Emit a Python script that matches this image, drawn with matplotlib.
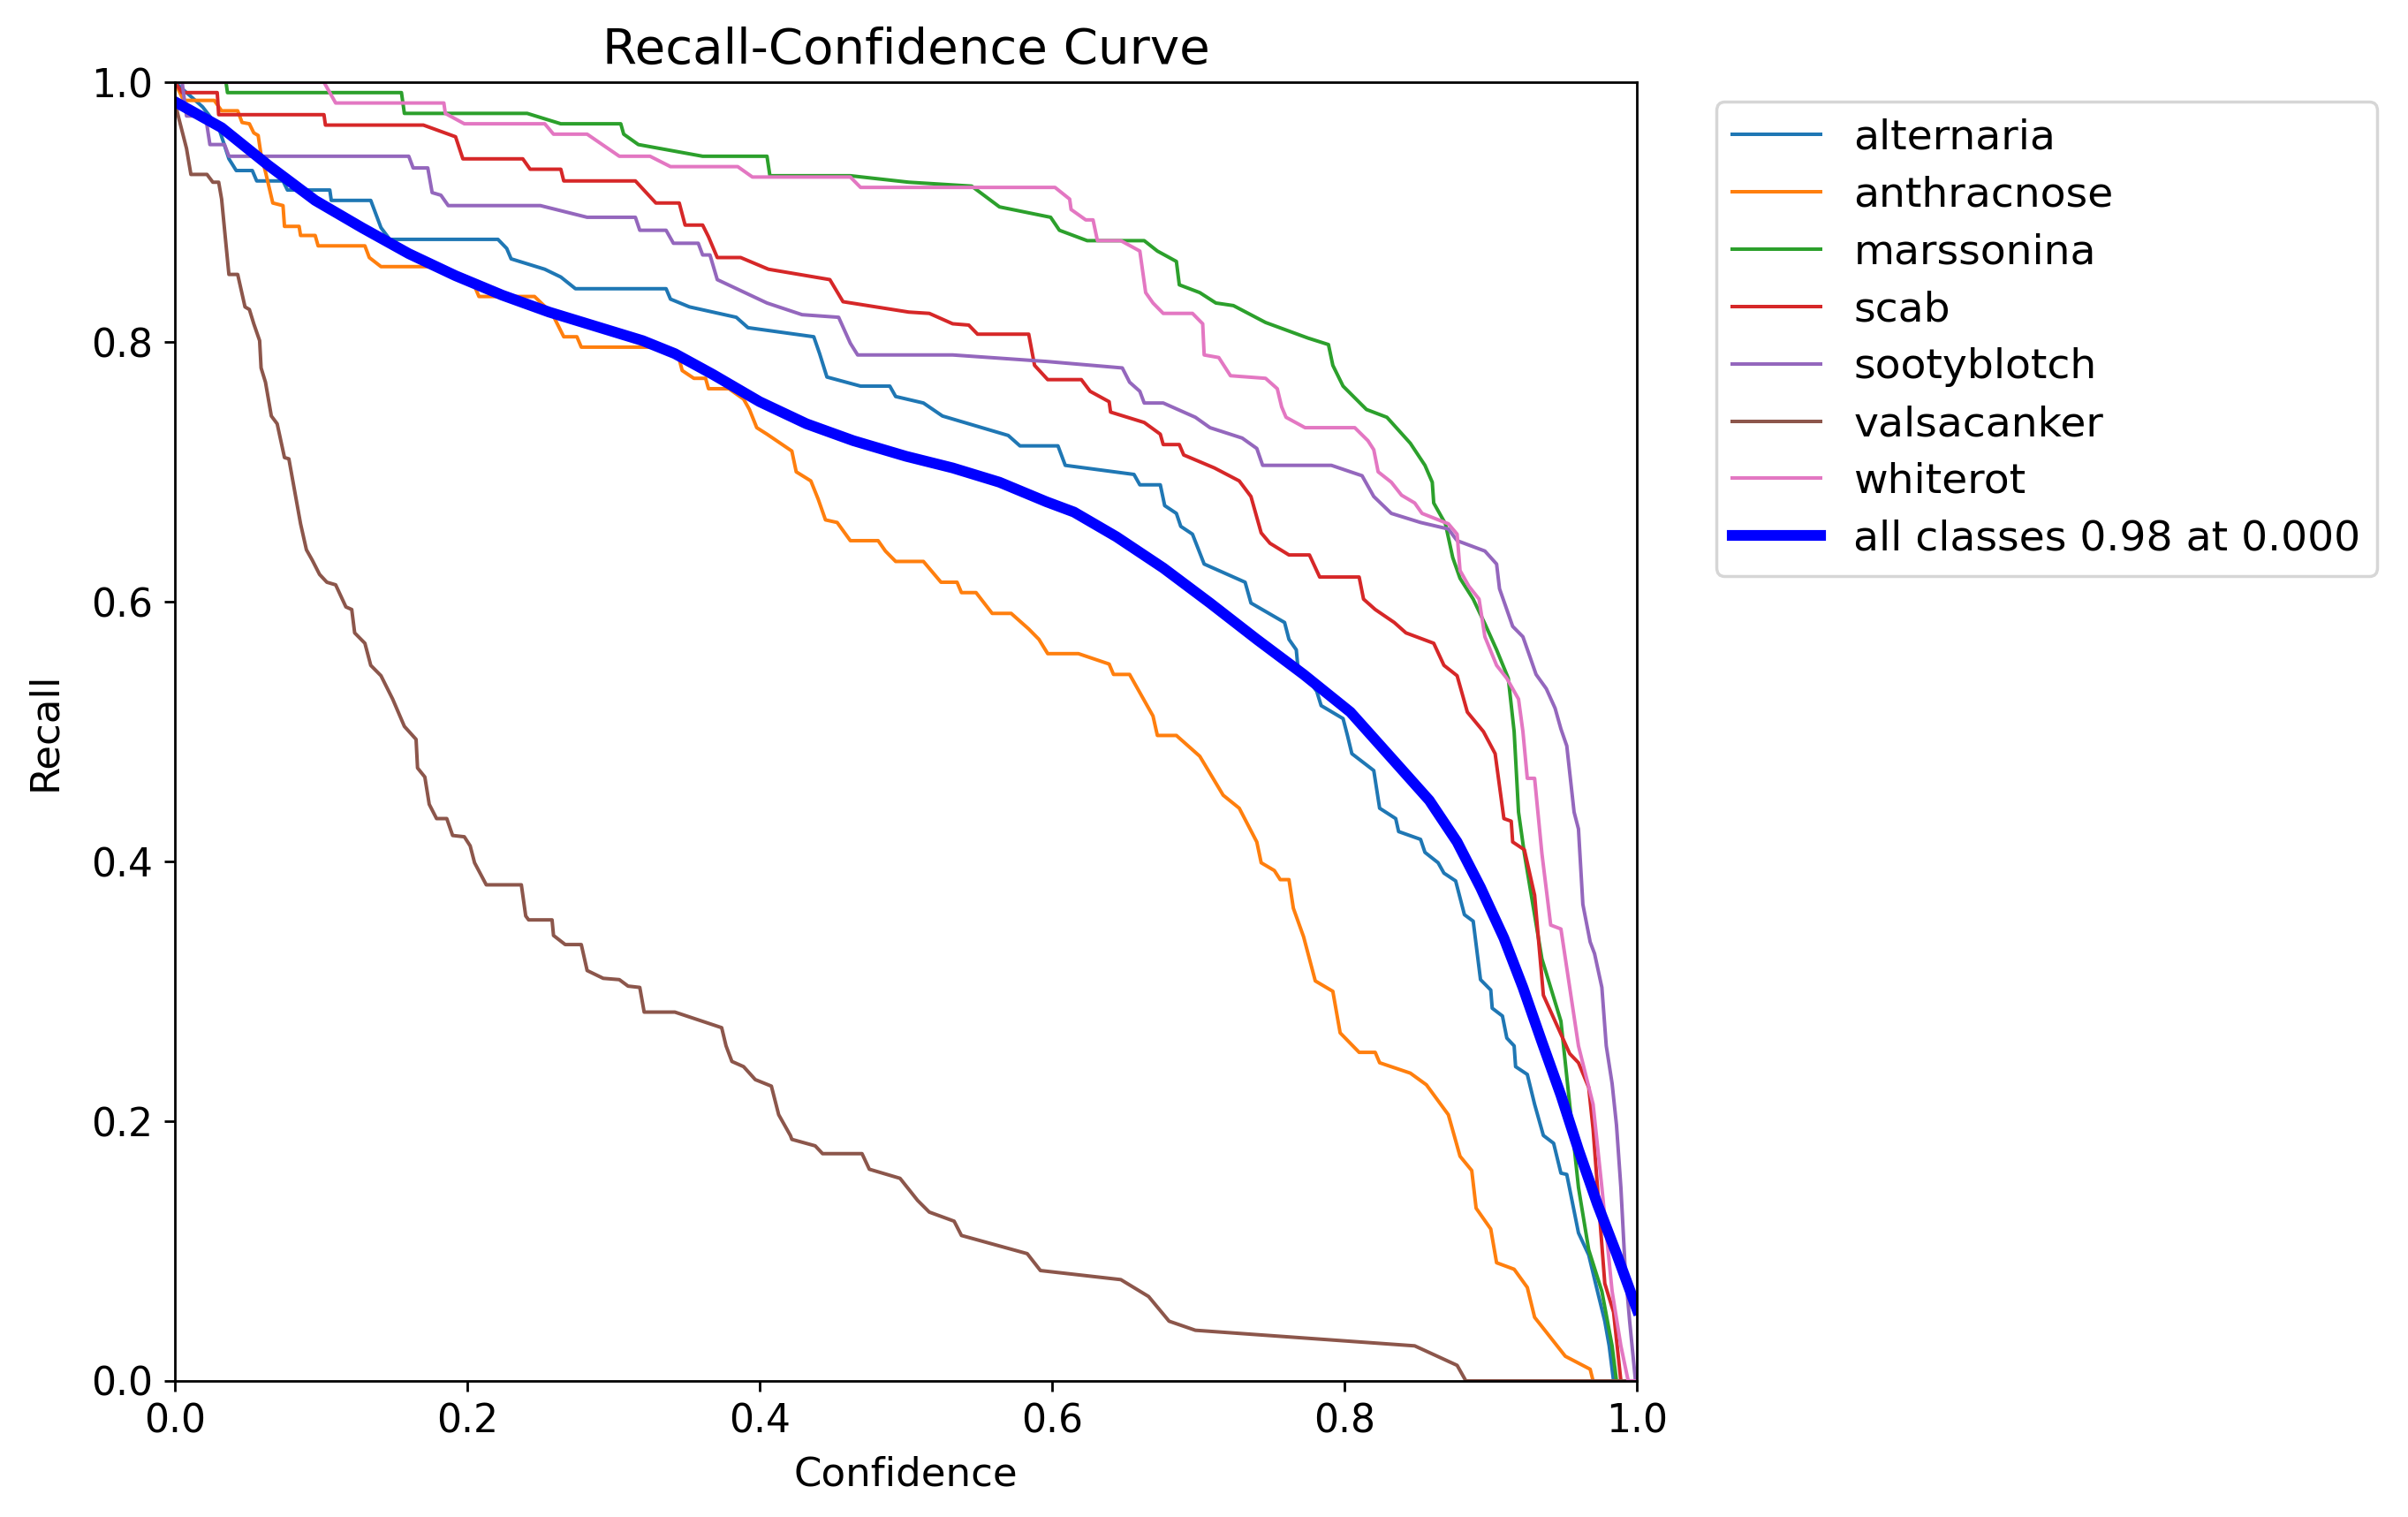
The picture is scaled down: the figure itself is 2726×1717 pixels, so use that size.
import numpy as np
import matplotlib
matplotlib.use("Agg")
import matplotlib.pyplot as plt

# (confidence, recall) points
alternaria = [(0, 1.0), (0.019, 0.981), (0.03, 0.965), (0.037, 0.941), (0.042, 0.932), (0.053, 0.932),
              (0.056, 0.924), (0.074, 0.924), (0.077, 0.917), (0.106, 0.917), (0.107, 0.909), (0.134, 0.909),
              (0.138, 0.897), (0.141, 0.888), (0.147, 0.879), (0.221, 0.879), (0.227, 0.872), (0.23, 0.864),
              (0.253, 0.856), (0.264, 0.85), (0.274, 0.841), (0.336, 0.841), (0.339, 0.833), (0.352, 0.827),
              (0.384, 0.819), (0.392, 0.811), (0.437, 0.804), (0.441, 0.791), (0.446, 0.773), (0.469, 0.766),
              (0.489, 0.766), (0.493, 0.758), (0.512, 0.753), (0.525, 0.743), (0.57, 0.728), (0.578, 0.72),
              (0.604, 0.72), (0.609, 0.705), (0.656, 0.698), (0.66, 0.69), (0.674, 0.69), (0.677, 0.674),
              (0.685, 0.668), (0.688, 0.658), (0.696, 0.652), (0.704, 0.629), (0.732, 0.615), (0.736, 0.599),
              (0.759, 0.584), (0.762, 0.571), (0.767, 0.563), (0.768, 0.551), (0.781, 0.531), (0.784, 0.52),
              (0.799, 0.51), (0.802, 0.497), (0.805, 0.483), (0.82, 0.47), (0.824, 0.441), (0.835, 0.433),
              (0.837, 0.423), (0.852, 0.417), (0.855, 0.407), (0.864, 0.399), (0.868, 0.391), (0.876, 0.385),
              (0.882, 0.359), (0.888, 0.354), (0.893, 0.309), (0.9, 0.301), (0.901, 0.287), (0.908, 0.281),
              (0.911, 0.264), (0.916, 0.258), (0.917, 0.242), (0.925, 0.236), (0.93, 0.213), (0.936, 0.189),
              (0.943, 0.183), (0.948, 0.16), (0.952, 0.159), (0.96, 0.114), (0.967, 0.097), (0.973, 0.069),
              (0.978, 0.046), (0.981, 0.027), (0.984, 0.0), (1.0, 0.0)]

anthracnose = [(0, 1.0), (0.006, 0.986), (0.027, 0.986), (0.032, 0.978), (0.043, 0.978), (0.046, 0.969),
               (0.051, 0.968), (0.054, 0.961), (0.057, 0.959), (0.059, 0.944), (0.062, 0.931), (0.067, 0.907),
               (0.074, 0.905), (0.075, 0.889), (0.085, 0.889), (0.086, 0.882), (0.096, 0.882), (0.098, 0.874),
               (0.13, 0.874), (0.133, 0.865), (0.141, 0.858), (0.178, 0.858), (0.2, 0.85), (0.205, 0.843),
               (0.208, 0.835), (0.246, 0.835), (0.258, 0.822), (0.266, 0.804), (0.275, 0.804), (0.278, 0.796),
               (0.328, 0.796), (0.344, 0.791), (0.347, 0.778), (0.355, 0.772), (0.363, 0.772), (0.365, 0.764),
               (0.379, 0.764), (0.389, 0.756), (0.393, 0.748), (0.398, 0.734), (0.405, 0.729), (0.422, 0.716),
               (0.425, 0.7), (0.435, 0.693), (0.44, 0.679), (0.445, 0.663), (0.453, 0.661), (0.462, 0.647),
               (0.481, 0.647), (0.486, 0.639), (0.493, 0.631), (0.512, 0.631), (0.524, 0.615), (0.535, 0.615),
               (0.538, 0.607), (0.548, 0.607), (0.559, 0.591), (0.572, 0.591), (0.584, 0.579), (0.591, 0.571),
               (0.597, 0.56), (0.618, 0.56), (0.639, 0.552), (0.642, 0.544), (0.653, 0.544), (0.661, 0.528),
               (0.669, 0.512), (0.672, 0.497), (0.685, 0.497), (0.701, 0.481), (0.717, 0.451), (0.728, 0.441),
               (0.74, 0.415), (0.743, 0.399), (0.752, 0.393), (0.756, 0.386), (0.762, 0.386), (0.765, 0.364),
               (0.772, 0.342), (0.78, 0.308), (0.792, 0.3), (0.797, 0.268), (0.81, 0.253), (0.821, 0.253),
               (0.824, 0.245), (0.845, 0.237), (0.856, 0.228), (0.871, 0.205), (0.879, 0.173), (0.887, 0.162),
               (0.89, 0.133), (0.9, 0.117), (0.904, 0.091), (0.916, 0.086), (0.925, 0.072), (0.93, 0.049),
               (0.951, 0.019), (0.968, 0.009), (0.97, 0.0), (1.0, 0.0)]

marssonina = [(0, 1.0), (0.035, 1.0), (0.036, 0.992), (0.155, 0.992), (0.157, 0.976), (0.241, 0.976),
              (0.264, 0.968), (0.305, 0.968), (0.307, 0.96), (0.317, 0.952), (0.361, 0.943), (0.405, 0.943),
              (0.407, 0.928), (0.462, 0.928), (0.502, 0.923), (0.545, 0.92), (0.564, 0.904), (0.599, 0.896),
              (0.605, 0.886), (0.624, 0.878), (0.663, 0.878), (0.672, 0.87), (0.685, 0.862), (0.687, 0.844),
              (0.701, 0.838), (0.712, 0.83), (0.724, 0.828), (0.746, 0.815), (0.775, 0.803), (0.789, 0.798),
              (0.792, 0.782), (0.799, 0.766), (0.815, 0.748), (0.829, 0.742), (0.845, 0.722), (0.855, 0.705),
              (0.86, 0.692), (0.861, 0.676), (0.869, 0.66), (0.874, 0.634), (0.879, 0.618), (0.888, 0.602),
              (0.896, 0.583), (0.904, 0.563), (0.912, 0.541), (0.916, 0.5), (0.919, 0.438), (0.923, 0.406),
              (0.935, 0.325), (0.948, 0.277), (0.954, 0.213), (0.96, 0.149), (0.967, 0.101), (0.976, 0.069),
              (0.983, 0.027), (0.986, 0.0), (1.0, 0.0)]

scab = [(0, 1.0), (0.005, 0.992), (0.029, 0.992), (0.03, 0.975), (0.102, 0.975), (0.103, 0.967), (0.17, 0.967),
        (0.192, 0.958), (0.197, 0.941), (0.238, 0.941), (0.243, 0.933), (0.264, 0.933), (0.266, 0.924),
        (0.315, 0.924), (0.329, 0.907), (0.345, 0.907), (0.349, 0.89), (0.361, 0.89), (0.365, 0.881),
        (0.371, 0.865), (0.387, 0.865), (0.406, 0.856), (0.448, 0.848), (0.457, 0.831), (0.502, 0.823),
        (0.516, 0.822), (0.532, 0.814), (0.543, 0.813), (0.549, 0.806), (0.584, 0.806), (0.588, 0.782),
        (0.597, 0.771), (0.62, 0.771), (0.626, 0.762), (0.639, 0.754), (0.64, 0.746), (0.663, 0.738),
        (0.674, 0.729), (0.676, 0.721), (0.687, 0.721), (0.69, 0.713), (0.711, 0.703), (0.728, 0.693),
        (0.736, 0.681), (0.743, 0.653), (0.749, 0.645), (0.762, 0.636), (0.776, 0.636), (0.783, 0.619),
        (0.81, 0.619), (0.813, 0.602), (0.821, 0.594), (0.834, 0.584), (0.842, 0.576), (0.861, 0.568),
        (0.868, 0.551), (0.877, 0.543), (0.884, 0.515), (0.895, 0.5), (0.903, 0.483), (0.909, 0.433),
        (0.914, 0.431), (0.915, 0.415), (0.923, 0.409), (0.93, 0.374), (0.936, 0.297), (0.944, 0.277),
        (0.954, 0.252), (0.96, 0.245), (0.967, 0.226), (0.97, 0.194), (0.973, 0.149), (0.978, 0.075),
        (0.984, 0.053), (0.989, 0.0), (1.0, 0.0)]

sootyblotch = [(0, 1.0), (0.005, 1.0), (0.008, 0.974), (0.021, 0.974), (0.024, 0.952), (0.034, 0.952),
               (0.037, 0.943), (0.16, 0.943), (0.163, 0.934), (0.173, 0.934), (0.176, 0.915), (0.182, 0.913),
               (0.187, 0.905), (0.25, 0.905), (0.282, 0.896), (0.315, 0.896), (0.318, 0.886), (0.336, 0.886),
               (0.341, 0.876), (0.358, 0.876), (0.361, 0.867), (0.366, 0.867), (0.371, 0.848), (0.405, 0.83),
               (0.429, 0.821), (0.454, 0.819), (0.462, 0.799), (0.467, 0.79), (0.532, 0.79), (0.596, 0.785),
               (0.648, 0.78), (0.653, 0.769), (0.66, 0.762), (0.663, 0.753), (0.676, 0.753), (0.698, 0.742),
               (0.708, 0.734), (0.73, 0.726), (0.74, 0.718), (0.744, 0.705), (0.791, 0.705), (0.812, 0.697),
               (0.82, 0.681), (0.832, 0.668), (0.852, 0.661), (0.871, 0.656), (0.877, 0.647), (0.896, 0.639),
               (0.904, 0.629), (0.906, 0.61), (0.915, 0.581), (0.922, 0.573), (0.927, 0.557), (0.931, 0.544),
               (0.938, 0.533), (0.944, 0.518), (0.948, 0.502), (0.952, 0.489), (0.957, 0.438), (0.96, 0.425),
               (0.963, 0.367), (0.968, 0.338), (0.971, 0.329), (0.976, 0.303), (0.979, 0.258), (0.983, 0.229),
               (0.986, 0.197), (0.989, 0.149), (0.992, 0.085), (0.995, 0.046), (0.999, 0.0), (1.0, 0.0)]

valsacanker = [(0, 0.985), (0.003, 0.971), (0.008, 0.949), (0.011, 0.929), (0.022, 0.929), (0.026, 0.923),
               (0.03, 0.923), (0.032, 0.91), (0.035, 0.875), (0.037, 0.852), (0.043, 0.852), (0.048, 0.827),
               (0.051, 0.825), (0.054, 0.814), (0.058, 0.801), (0.059, 0.78), (0.062, 0.769), (0.066, 0.743),
               (0.07, 0.737), (0.075, 0.711), (0.078, 0.71), (0.082, 0.685), (0.086, 0.66), (0.09, 0.64),
               (0.094, 0.632), (0.099, 0.621), (0.104, 0.615), (0.11, 0.613), (0.117, 0.596), (0.121, 0.594),
               (0.123, 0.576), (0.13, 0.568), (0.134, 0.551), (0.141, 0.543), (0.149, 0.525), (0.157, 0.504),
               (0.165, 0.494), (0.166, 0.472), (0.171, 0.465), (0.174, 0.444), (0.179, 0.433), (0.186, 0.433),
               (0.19, 0.42), (0.198, 0.419), (0.202, 0.412), (0.205, 0.399), (0.213, 0.382), (0.237, 0.382),
               (0.24, 0.358), (0.242, 0.355), (0.258, 0.355), (0.259, 0.343), (0.267, 0.336), (0.278, 0.336),
               (0.282, 0.316), (0.293, 0.31), (0.304, 0.309), (0.31, 0.304), (0.318, 0.303), (0.321, 0.284),
               (0.342, 0.284), (0.374, 0.272), (0.377, 0.258), (0.381, 0.246), (0.389, 0.242), (0.397, 0.232),
               (0.408, 0.227), (0.413, 0.205), (0.421, 0.189), (0.422, 0.186), (0.438, 0.181), (0.443, 0.175),
               (0.47, 0.175), (0.475, 0.163), (0.496, 0.156), (0.508, 0.139), (0.516, 0.13), (0.533, 0.123),
               (0.538, 0.112), (0.583, 0.098), (0.592, 0.085), (0.647, 0.078), (0.666, 0.065), (0.68, 0.046),
               (0.698, 0.039), (0.848, 0.027), (0.877, 0.012), (0.883, 0.0), (1.0, 0.0)]

whiterot = [(0, 1.0), (0.102, 1.0), (0.11, 0.984), (0.184, 0.984), (0.185, 0.976), (0.198, 0.968), (0.253, 0.968),
            (0.259, 0.96), (0.282, 0.96), (0.304, 0.943), (0.325, 0.943), (0.339, 0.935), (0.385, 0.935),
            (0.395, 0.927), (0.462, 0.927), (0.469, 0.919), (0.602, 0.919), (0.612, 0.91), (0.613, 0.902),
            (0.623, 0.894), (0.628, 0.894), (0.631, 0.878), (0.647, 0.878), (0.66, 0.87), (0.664, 0.838),
            (0.669, 0.83), (0.676, 0.822), (0.696, 0.822), (0.703, 0.814), (0.704, 0.79), (0.714, 0.788),
            (0.722, 0.774), (0.746, 0.772), (0.754, 0.764), (0.757, 0.75), (0.76, 0.742), (0.773, 0.734),
            (0.807, 0.734), (0.816, 0.724), (0.82, 0.717), (0.823, 0.7), (0.832, 0.692), (0.839, 0.682),
            (0.848, 0.676), (0.853, 0.668), (0.871, 0.66), (0.877, 0.652), (0.879, 0.624), (0.885, 0.612),
            (0.892, 0.602), (0.896, 0.573), (0.904, 0.551), (0.911, 0.541), (0.919, 0.525), (0.922, 0.5),
            (0.925, 0.464), (0.93, 0.464), (0.935, 0.406), (0.941, 0.351), (0.948, 0.348), (0.954, 0.303),
            (0.96, 0.258), (0.97, 0.213), (0.976, 0.149), (0.983, 0.069), (0.989, 0.027), (0.994, 0.0), (1.0, 0.0)]

all_classes = [(0, 0.985), (0.032, 0.965), (0.064, 0.936), (0.096, 0.909), (0.128, 0.888), (0.16, 0.868),
               (0.192, 0.851), (0.224, 0.836), (0.256, 0.823), (0.288, 0.812), (0.32, 0.801), (0.342, 0.791),
               (0.368, 0.775), (0.4, 0.754), (0.432, 0.737), (0.464, 0.724), (0.5, 0.712), (0.532, 0.703),
               (0.564, 0.692), (0.596, 0.677), (0.615, 0.669), (0.644, 0.65), (0.676, 0.626), (0.708, 0.599),
               (0.74, 0.571), (0.772, 0.544), (0.804, 0.515), (0.835, 0.476), (0.858, 0.447), (0.877, 0.415),
               (0.893, 0.38), (0.909, 0.341), (0.922, 0.303), (0.935, 0.261), (0.948, 0.22), (0.96, 0.178),
               (0.973, 0.136), (0.986, 0.098), (1.0, 0.055)]

class_names = ['alternaria', 'anthracnose', 'marssonina', 'scab', 'sootyblotch', 'valsacanker', 'whiterot']
class_curves = [alternaria, anthracnose, marssonina, scab, sootyblotch, valsacanker, whiterot]
all_label = 'all classes 0.98 at 0.000'

fig = plt.figure(figsize=(10.904, 6.868), dpi=250)
ax = fig.add_axes([0.0726, 0.0897, 0.6072, 0.8561])

for name, curve in zip(class_names, class_curves):
    pts = np.array(curve)
    ax.plot(pts[:, 0], pts[:, 1], linewidth=1.15, label=name)

pts = np.array(all_classes)
ax.plot(pts[:, 0], pts[:, 1], linewidth=3.5, color='blue', label=all_label)

ax.set_xlim(0, 1)
ax.set_ylim(0, 1)
ax.tick_params(labelsize=12.7)
ax.set_xlabel('Confidence', fontsize=13, labelpad=5)
ax.set_ylabel('Recall', fontsize=13, labelpad=9)
ax.set_title('Recall-Confidence Curve', fontsize=16.2)
ax.legend(bbox_to_anchor=(1.054, 0.985), loc='upper left', borderaxespad=0,
          fontsize=13.6, labelspacing=0.42, handlelength=2.1)

fig.savefig('out.png', dpi=250)
